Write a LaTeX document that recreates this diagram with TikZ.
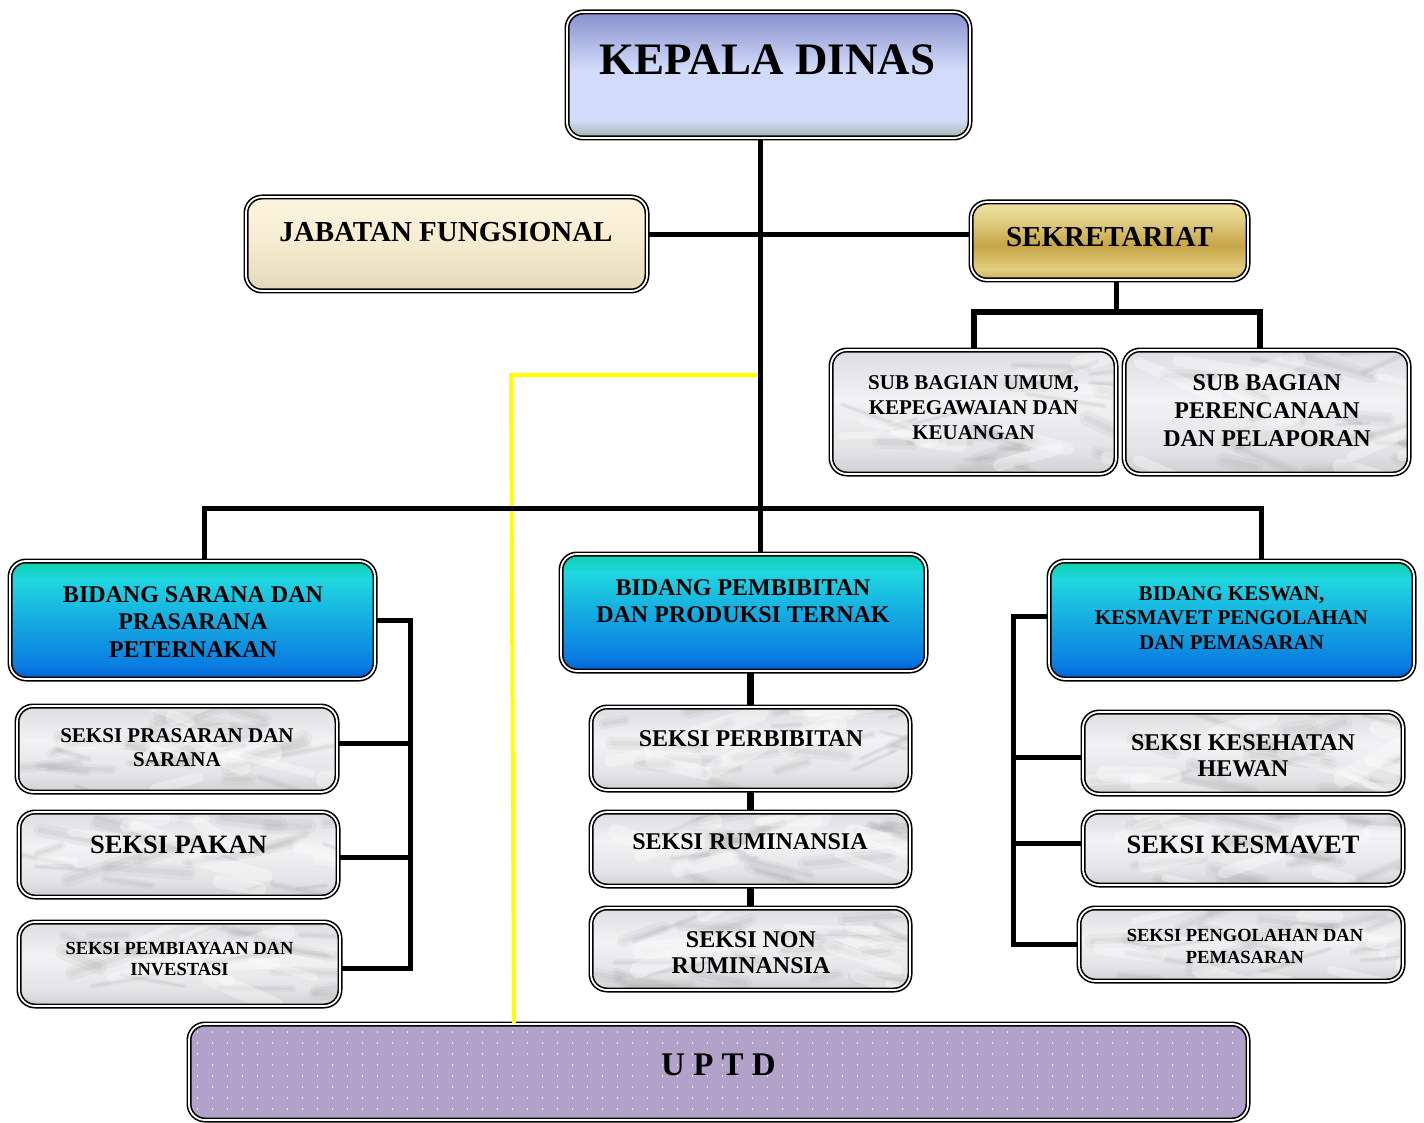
\documentclass[tikz,border=0pt]{standalone}
\usepackage{fontspec}
\setmainfont{Liberation Serif}
\usetikzlibrary{calc}

\definecolor{kdT}{RGB}{136,143,204}
\definecolor{kdM}{RGB}{210,220,250}
\definecolor{kdB}{RGB}{160,178,168}
\definecolor{crT}{RGB}{252,244,222}
\definecolor{crM}{RGB}{245,236,208}
\definecolor{crB}{RGB}{226,216,186}
\definecolor{gd1}{RGB}{205,175,90}
\definecolor{gd2}{RGB}{226,206,128}
\definecolor{gd3}{RGB}{198,165,72}
\definecolor{gd4}{RGB}{228,210,138}
\definecolor{gd5}{RGB}{238,225,162}
\definecolor{bd1}{RGB}{0,96,208}
\definecolor{bd2}{RGB}{10,125,226}
\definecolor{bd3}{RGB}{32,214,224}
\definecolor{bd4}{RGB}{14,208,170}
\definecolor{mb1}{RGB}{208,208,212}
\definecolor{mb2}{RGB}{228,228,231}
\definecolor{mb3}{RGB}{242,242,244}
\definecolor{mb4}{RGB}{222,222,226}
\definecolor{uptdfill}{RGB}{178,162,202}
\definecolor{uptddot}{RGB}{236,230,244}

\pgfdeclareverticalshading{kdsh}{100bp}{color(0bp)=(kdB); color(25bp)=(kdB); color(32bp)=(kdM); color(52bp)=(kdM); color(75bp)=(kdT); color(100bp)=(kdT)}
\pgfdeclareverticalshading{crsh}{100bp}{color(0bp)=(crB); color(25bp)=(crB); color(50bp)=(crM); color(75bp)=(crT); color(100bp)=(crT)}
\pgfdeclareverticalshading{gdsh}{100bp}{color(0bp)=(gd1); color(25bp)=(gd1); color(32bp)=(gd2); color(47bp)=(gd3); color(65bp)=(gd4); color(75bp)=(gd5); color(100bp)=(gd5)}
\pgfdeclareverticalshading{bdsh}{100bp}{color(0bp)=(bd1); color(25bp)=(bd1); color(31bp)=(bd2); color(67bp)=(bd3); color(75bp)=(bd4); color(100bp)=(bd4)}
\pgfdeclareverticalshading{mbsh}{100bp}{color(0bp)=(mb1); color(25bp)=(mb1); color(35bp)=(mb2); color(55bp)=(mb3); color(75bp)=(mb4); color(100bp)=(mb4)}

\newcommand{\fs}[2]{\fontsize{#1}{#2}\selectfont\bfseries}
\newcommand{\marblestreaks}{%
  \foreach \i in {1,...,22}{%
    \pgfmathsetmacro{\ang}{rand*25}%
    \pgfmathsetmacro{\len}{20+rnd*70}%
    \pgfmathsetmacro{\lw}{4+rnd*12}%
    \pgfmathsetmacro{\ga}{rnd}%
    \pgfmathsetmacro{\gb}{rnd}%
    \coordinate (ma) at ($(path picture bounding box.south west)!\ga!(path picture bounding box.south east)$);
    \coordinate (mb) at ($(path picture bounding box.south west)!\gb!(path picture bounding box.north west)$);
    \draw[gray!80, line width=\lw pt, opacity=0.10, line cap=round] (ma |- mb) -- ++(\ang:\len);
    \draw[gray!80, line width=0.4*\lw pt, opacity=0.12, line cap=round] (ma |- mb) -- ++(\ang:\len);
  }%
  \foreach \i in {1,...,10}{%
    \pgfmathsetmacro{\ang}{rand*30}%
    \pgfmathsetmacro{\len}{30+rnd*60}%
    \pgfmathsetmacro{\lw}{6+rnd*12}%
    \pgfmathsetmacro{\ga}{rnd}%
    \pgfmathsetmacro{\gb}{rnd}%
    \coordinate (ma) at ($(path picture bounding box.south west)!\ga!(path picture bounding box.south east)$);
    \coordinate (mb) at ($(path picture bounding box.south west)!\gb!(path picture bounding box.north west)$);
    \draw[white, line width=\lw pt, opacity=0.35, line cap=round] (ma |- mb) -- ++(\ang:\len);
  }%
}

\tikzset{
  bx/.style={draw=black, line width=1.6pt, double=white, double distance=1.8pt,
    rounded corners=16pt, inner sep=0pt},
  kdbox/.style={bx, shading=kdsh},
  crbox/.style={bx, shading=crsh},
  gdbox/.style={bx, shading=gdsh},
  bdbox/.style={bx, shading=bdsh},
  mbbox/.style={bx, shading=mbsh, path picture={\marblestreaks}},
  txt/.style={align=center, inner sep=0pt, text=black},
  conn/.style={line width=5pt, line cap=butt, line join=miter, draw=black},
  thickconn/.style={line width=7pt, line cap=butt, draw=black},
  yline/.style={line width=4pt, draw={rgb,255:red,255;green,255;blue,0}, line join=miter}
}

\begin{document}
\begin{tikzpicture}[x=1pt, y=-1pt]
\useasboundingbox (0,0) rectangle (1424,1123);
\fill[white] (0,0) rectangle (1424,1123);

\pgfmathsetseed{7}

% ---- boxes ----
\node[kdbox, minimum width=403pt, minimum height=126pt] (kd) at (768.5,75) {};
\node[crbox, minimum width=401pt, minimum height=94pt] (jf) at (446.5,244) {};
\node[gdbox, minimum width=277pt, minimum height=78pt] (sk) at (1109.5,241) {};
\node[mbbox, minimum width=285pt, minimum height=124pt] (sbu) at (973.5,412) {};
\node[mbbox, minimum width=285pt, minimum height=124pt] (sbp) at (1266.5,412) {};
\node[bdbox, minimum width=365pt, minimum height=118pt] (bsp) at (192.5,620) {};
\node[bdbox, minimum width=365pt, minimum height=117pt] (bpp) at (743.5,612.5) {};
\node[bdbox, minimum width=365pt, minimum height=118pt] (bk) at (1231.5,620) {};
\node[mbbox, minimum width=320pt, minimum height=86pt] (s1) at (177,749) {};
\node[mbbox, minimum width=319pt, minimum height=85pt] (s2) at (178.5,854.5) {};
\node[mbbox, minimum width=321pt, minimum height=84pt] (s3) at (179.5,964) {};
\node[mbbox, minimum width=319pt, minimum height=83pt] (m1) at (750.5,748.5) {};
\node[mbbox, minimum width=319pt, minimum height=74pt] (m2) at (750.5,849) {};
\node[mbbox, minimum width=319pt, minimum height=82pt] (m3) at (750.5,949) {};
\node[mbbox, minimum width=320pt, minimum height=82pt] (r1) at (1243,753) {};
\node[mbbox, minimum width=320pt, minimum height=73pt] (r2) at (1243,848.5) {};
\node[mbbox, minimum width=324pt, minimum height=73pt] (r3) at (1241,944.5) {};
\node[bx, fill=uptdfill, minimum width=1059pt, minimum height=96pt,
  path picture={\fill[uptddot, rounded corners=0pt] \foreach \xx in {8,23,...,1055}{\foreach \yy in {7,18,...,96}{($(path picture bounding box.north west)+(\xx,\yy)$) rectangle ++(0.9,1.8)}};}] (uptd) at (718.5,1072) {};

% ---- texts ----
\node[txt, font=\fs{45}{54}] (kdt) at (767.5,60) {KEPALA DINAS};
\node[txt, font=\fs{29}{34}] (jft) at (446,232) {JABATAN FUNGSIONAL};
\node[txt, font=\fs{29}{34}] (skt) at (1109.5,237) {SEKRETARIAT};
\node[txt, font=\fs{21}{25}] (sbut) at (973.5,407.5) {SUB BAGIAN UMUM,\\KEPEGAWAIAN DAN\\KEUANGAN};
\node[txt, font=\fs{24}{28}] (sbpt) at (1267,411) {SUB BAGIAN\\PERENCANAAN\\DAN PELAPORAN};
\node[txt, font=\fs{24}{27.5}] (bspt) at (193,622) {BIDANG SARANA DAN\\PRASARANA\\PETERNAKAN};
\node[txt, font=\fs{24}{27}] (bppt) at (743,601.5) {BIDANG PEMBIBITAN\\DAN PRODUKSI TERNAK};
\node[txt, font=\fs{21}{24.5}] (bkt) at (1231.5,618) {BIDANG KESWAN,\\KESMAVET PENGOLAHAN\\DAN PEMASARAN};
\node[txt, font=\fs{21}{24}] (s1t) at (177,748) {SEKSI PRASARAN DAN\\SARANA};
\node[txt, font=\fs{26.5}{30}] (s2t) at (178.5,845) {SEKSI PAKAN};
\node[txt, font=\fs{18.5}{21}] (s3t) at (179.5,959.5) {SEKSI PEMBIAYAAN DAN\\INVESTASI};
\node[txt, font=\fs{24}{27}] (m1t) at (751,739) {SEKSI PERBIBITAN};
\node[txt, font=\fs{24}{27}] (m2t) at (750,842) {SEKSI RUMINANSIA};
\node[txt, font=\fs{24}{26}] (m3t) at (751,953) {SEKSI NON\\RUMINANSIA};
\node[txt, font=\fs{24}{26}] (r1t) at (1243,756) {SEKSI KESEHATAN\\HEWAN};
\node[txt, font=\fs{26.5}{30}] (r2t) at (1243,845) {SEKSI KESMAVET};
\node[txt, font=\fs{18.5}{22}] (r3t) at (1245,946) {SEKSI PENGOLAHAN DAN\\PEMASARAN};
\node[txt, font=\fs{33}{38}] (uptdt) at (718.5,1065) {U P T D};

% ---- connectors ----
\coordinate (sp) at (760,0);
\coordinate (hb) at (760,508);
\coordinate (lb) at (410,0);
\coordinate (rb) at (1013,0);
\coordinate (y1) at (760,375);
\coordinate (y2) at (511,375);

% yellow line to UPTD
\draw[yline] (y1) -- (y2) -- ([xshift=3pt]y2 |- uptd.north);

% main spine
\draw[conn] (kd.south -| sp) -- (bpp.north -| sp);
% jabatan - sekretariat
\draw[conn] ([yshift=9pt]jf.east) -- ([yshift=9pt]jf.east -| sk.west);
% sekretariat subtree
\draw[conn] ([xshift=6.5pt]sk.south) -- ++(0,31);
\draw[line width=6pt, line join=miter, line cap=butt] (sbu.north) -- ++(0,-37) -| ([xshift=-6.5pt]sbp.north);
% big horizontal bar
\draw[conn] ([xshift=11.5pt]bsp.north) |- (hb) -| ([xshift=29.5pt]bk.north);

% left bracket
\draw[conn] (bsp.east) -| ([yshift=-4pt]lb |- s3.east) -- ([yshift=-4pt]s3.east);
\draw[conn] ([yshift=6pt]s1.east) -- ([yshift=6pt]lb |- s1.east);
\draw[conn] ([yshift=-2.5pt]s2.east) -- ([yshift=-2.5pt]lb |- s2.east);

% middle chain
\draw[thickconn] (m1.north) -- (m1.north |- bpp.south);
\draw[thickconn] (m1.south) -- (m2.north);
\draw[thickconn] (m2.south) -- (m3.north);

% right bracket
\draw[conn] ([yshift=4pt]bk.west) -| (rb |- r3.west) -- (r3.west);
\draw[conn] ([yshift=-4pt]r1.west) -- ([yshift=-4pt]rb |- r1.west);
\draw[conn] ([yshift=5.5pt]r2.west) -- ([yshift=5.5pt]rb |- r2.west);
\end{tikzpicture}
\end{document}
